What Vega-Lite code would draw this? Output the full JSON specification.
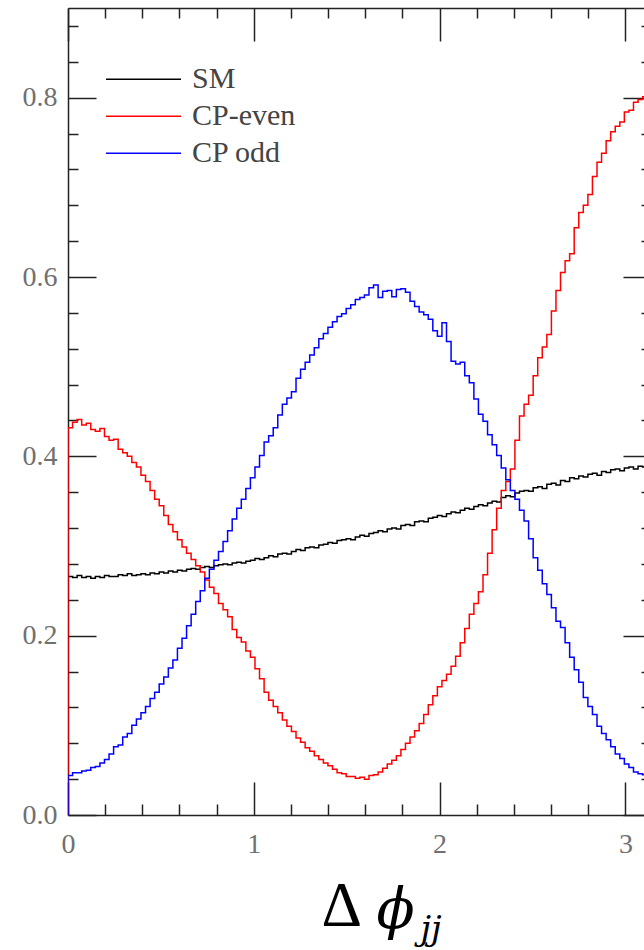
{
"$schema": "https://vega.github.io/schema/vega-lite/v6.json",
"width": 576, "height": 807,
"autosize": {"type": "none"},
"padding": {"left": 68, "top": 8, "right": 0, "bottom": 135},
"background": "white",
"config": {"view": {"stroke": null}, "axis": {"grid": false}},
"data": {"values": [
{"i":0,"x":0,"SM":0,"CP-even":0,"CP odd":0},
{"i":1,"x":0,"SM":0.266,"CP-even":0.432,"CP odd":0.044},
{"i":2,"x":0.0245,"SM":0.265,"CP-even":0.438,"CP odd":0.047},
{"i":3,"x":0.0491,"SM":0.267,"CP-even":0.441,"CP odd":0.047},
{"i":4,"x":0.0736,"SM":0.265,"CP-even":0.435,"CP odd":0.049},
{"i":5,"x":0.0982,"SM":0.266,"CP-even":0.437,"CP odd":0.050},
{"i":6,"x":0.1227,"SM":0.264,"CP-even":0.430,"CP odd":0.053},
{"i":7,"x":0.1473,"SM":0.266,"CP-even":0.428,"CP odd":0.054},
{"i":8,"x":0.1718,"SM":0.265,"CP-even":0.431,"CP odd":0.058},
{"i":9,"x":0.1963,"SM":0.267,"CP-even":0.422,"CP odd":0.062},
{"i":10,"x":0.2209,"SM":0.266,"CP-even":0.418,"CP odd":0.068},
{"i":11,"x":0.2454,"SM":0.266,"CP-even":0.419,"CP odd":0.076},
{"i":12,"x":0.2700,"SM":0.268,"CP-even":0.408,"CP odd":0.078},
{"i":13,"x":0.2945,"SM":0.267,"CP-even":0.404,"CP odd":0.087},
{"i":14,"x":0.3191,"SM":0.269,"CP-even":0.400,"CP odd":0.091},
{"i":15,"x":0.3436,"SM":0.267,"CP-even":0.393,"CP odd":0.100},
{"i":16,"x":0.3682,"SM":0.268,"CP-even":0.388,"CP odd":0.107},
{"i":17,"x":0.3927,"SM":0.269,"CP-even":0.379,"CP odd":0.114},
{"i":18,"x":0.4172,"SM":0.268,"CP-even":0.372,"CP odd":0.121},
{"i":19,"x":0.4418,"SM":0.270,"CP-even":0.362,"CP odd":0.130},
{"i":20,"x":0.4663,"SM":0.269,"CP-even":0.352,"CP odd":0.137},
{"i":21,"x":0.4909,"SM":0.271,"CP-even":0.345,"CP odd":0.146},
{"i":22,"x":0.5154,"SM":0.270,"CP-even":0.334,"CP odd":0.154},
{"i":23,"x":0.5400,"SM":0.272,"CP-even":0.324,"CP odd":0.164},
{"i":24,"x":0.5645,"SM":0.271,"CP-even":0.316,"CP odd":0.173},
{"i":25,"x":0.5890,"SM":0.273,"CP-even":0.307,"CP odd":0.186},
{"i":26,"x":0.6136,"SM":0.272,"CP-even":0.299,"CP odd":0.197},
{"i":27,"x":0.6381,"SM":0.274,"CP-even":0.292,"CP odd":0.211},
{"i":28,"x":0.6627,"SM":0.275,"CP-even":0.285,"CP odd":0.224},
{"i":29,"x":0.6872,"SM":0.274,"CP-even":0.278,"CP odd":0.238},
{"i":30,"x":0.7118,"SM":0.276,"CP-even":0.271,"CP odd":0.250},
{"i":31,"x":0.7363,"SM":0.277,"CP-even":0.262,"CP odd":0.264},
{"i":32,"x":0.7609,"SM":0.276,"CP-even":0.254,"CP odd":0.274},
{"i":33,"x":0.7854,"SM":0.278,"CP-even":0.247,"CP odd":0.284},
{"i":34,"x":0.8099,"SM":0.279,"CP-even":0.236,"CP odd":0.294},
{"i":35,"x":0.8345,"SM":0.280,"CP-even":0.229,"CP odd":0.305},
{"i":36,"x":0.8590,"SM":0.279,"CP-even":0.221,"CP odd":0.317},
{"i":37,"x":0.8836,"SM":0.281,"CP-even":0.207,"CP odd":0.330},
{"i":38,"x":0.9081,"SM":0.282,"CP-even":0.198,"CP odd":0.342},
{"i":39,"x":0.9327,"SM":0.281,"CP-even":0.193,"CP odd":0.352},
{"i":40,"x":0.9572,"SM":0.283,"CP-even":0.183,"CP odd":0.364},
{"i":41,"x":0.9817,"SM":0.284,"CP-even":0.176,"CP odd":0.376},
{"i":42,"x":1.0063,"SM":0.286,"CP-even":0.163,"CP odd":0.388},
{"i":43,"x":1.0308,"SM":0.285,"CP-even":0.152,"CP odd":0.401},
{"i":44,"x":1.0554,"SM":0.287,"CP-even":0.137,"CP odd":0.416},
{"i":45,"x":1.0799,"SM":0.289,"CP-even":0.128,"CP odd":0.423},
{"i":46,"x":1.1045,"SM":0.288,"CP-even":0.121,"CP odd":0.432},
{"i":47,"x":1.1290,"SM":0.291,"CP-even":0.114,"CP odd":0.446},
{"i":48,"x":1.1536,"SM":0.292,"CP-even":0.106,"CP odd":0.458},
{"i":49,"x":1.1781,"SM":0.291,"CP-even":0.099,"CP odd":0.465},
{"i":50,"x":1.2026,"SM":0.294,"CP-even":0.093,"CP odd":0.472},
{"i":51,"x":1.2272,"SM":0.296,"CP-even":0.086,"CP odd":0.487},
{"i":52,"x":1.2517,"SM":0.295,"CP-even":0.081,"CP odd":0.497},
{"i":53,"x":1.2763,"SM":0.298,"CP-even":0.075,"CP odd":0.505},
{"i":54,"x":1.3008,"SM":0.299,"CP-even":0.071,"CP odd":0.513},
{"i":55,"x":1.3254,"SM":0.298,"CP-even":0.066,"CP odd":0.521},
{"i":56,"x":1.3499,"SM":0.301,"CP-even":0.062,"CP odd":0.531},
{"i":57,"x":1.3744,"SM":0.302,"CP-even":0.058,"CP odd":0.537},
{"i":58,"x":1.3990,"SM":0.304,"CP-even":0.055,"CP odd":0.544},
{"i":59,"x":1.4235,"SM":0.303,"CP-even":0.051,"CP odd":0.550},
{"i":60,"x":1.4481,"SM":0.306,"CP-even":0.047,"CP odd":0.556},
{"i":61,"x":1.4726,"SM":0.307,"CP-even":0.046,"CP odd":0.559},
{"i":62,"x":1.4972,"SM":0.308,"CP-even":0.043,"CP odd":0.565},
{"i":63,"x":1.5217,"SM":0.307,"CP-even":0.043,"CP odd":0.569},
{"i":64,"x":1.5463,"SM":0.310,"CP-even":0.041,"CP odd":0.575},
{"i":65,"x":1.5708,"SM":0.312,"CP-even":0.042,"CP odd":0.577},
{"i":66,"x":1.5953,"SM":0.311,"CP-even":0.040,"CP odd":0.580},
{"i":67,"x":1.6199,"SM":0.314,"CP-even":0.044,"CP odd":0.588},
{"i":68,"x":1.6444,"SM":0.315,"CP-even":0.045,"CP odd":0.591},
{"i":69,"x":1.6690,"SM":0.317,"CP-even":0.048,"CP odd":0.577},
{"i":70,"x":1.6935,"SM":0.316,"CP-even":0.052,"CP odd":0.584},
{"i":71,"x":1.7181,"SM":0.319,"CP-even":0.057,"CP odd":0.585},
{"i":72,"x":1.7426,"SM":0.320,"CP-even":0.061,"CP odd":0.578},
{"i":73,"x":1.7671,"SM":0.319,"CP-even":0.066,"CP odd":0.586},
{"i":74,"x":1.7917,"SM":0.323,"CP-even":0.073,"CP odd":0.587},
{"i":75,"x":1.8162,"SM":0.324,"CP-even":0.080,"CP odd":0.583},
{"i":76,"x":1.8408,"SM":0.323,"CP-even":0.087,"CP odd":0.573},
{"i":77,"x":1.8653,"SM":0.327,"CP-even":0.094,"CP odd":0.567},
{"i":78,"x":1.8899,"SM":0.328,"CP-even":0.102,"CP odd":0.561},
{"i":79,"x":1.9144,"SM":0.327,"CP-even":0.112,"CP odd":0.558},
{"i":80,"x":1.9390,"SM":0.331,"CP-even":0.123,"CP odd":0.553},
{"i":81,"x":1.9635,"SM":0.332,"CP-even":0.133,"CP odd":0.540},
{"i":82,"x":1.9880,"SM":0.334,"CP-even":0.143,"CP odd":0.534},
{"i":83,"x":2.0126,"SM":0.333,"CP-even":0.150,"CP odd":0.549},
{"i":84,"x":2.0371,"SM":0.336,"CP-even":0.157,"CP odd":0.528},
{"i":85,"x":2.0617,"SM":0.338,"CP-even":0.166,"CP odd":0.506},
{"i":86,"x":2.0862,"SM":0.337,"CP-even":0.177,"CP odd":0.503},
{"i":87,"x":2.1108,"SM":0.340,"CP-even":0.192,"CP odd":0.505},
{"i":88,"x":2.1353,"SM":0.342,"CP-even":0.208,"CP odd":0.490},
{"i":89,"x":2.1598,"SM":0.341,"CP-even":0.224,"CP odd":0.482},
{"i":90,"x":2.1844,"SM":0.344,"CP-even":0.236,"CP odd":0.464},
{"i":91,"x":2.2089,"SM":0.346,"CP-even":0.249,"CP odd":0.447},
{"i":92,"x":2.2335,"SM":0.345,"CP-even":0.268,"CP odd":0.439},
{"i":93,"x":2.2580,"SM":0.348,"CP-even":0.292,"CP odd":0.424},
{"i":94,"x":2.2826,"SM":0.350,"CP-even":0.318,"CP odd":0.413},
{"i":95,"x":2.3071,"SM":0.349,"CP-even":0.342,"CP odd":0.401},
{"i":96,"x":2.3317,"SM":0.354,"CP-even":0.362,"CP odd":0.387},
{"i":97,"x":2.3562,"SM":0.356,"CP-even":0.372,"CP odd":0.374},
{"i":98,"x":2.3807,"SM":0.355,"CP-even":0.386,"CP odd":0.362},
{"i":99,"x":2.4053,"SM":0.359,"CP-even":0.418,"CP odd":0.352},
{"i":100,"x":2.4298,"SM":0.361,"CP-even":0.445,"CP odd":0.340},
{"i":101,"x":2.4544,"SM":0.362,"CP-even":0.458,"CP odd":0.328},
{"i":102,"x":2.4789,"SM":0.361,"CP-even":0.468,"CP odd":0.308},
{"i":103,"x":2.5035,"SM":0.365,"CP-even":0.490,"CP odd":0.287},
{"i":104,"x":2.5280,"SM":0.366,"CP-even":0.510,"CP odd":0.273},
{"i":105,"x":2.5525,"SM":0.364,"CP-even":0.522,"CP odd":0.258},
{"i":106,"x":2.5771,"SM":0.369,"CP-even":0.536,"CP odd":0.246},
{"i":107,"x":2.6016,"SM":0.370,"CP-even":0.562,"CP odd":0.231},
{"i":108,"x":2.6262,"SM":0.368,"CP-even":0.585,"CP odd":0.216},
{"i":109,"x":2.6507,"SM":0.373,"CP-even":0.605,"CP odd":0.209},
{"i":110,"x":2.6753,"SM":0.372,"CP-even":0.618,"CP odd":0.192},
{"i":111,"x":2.6998,"SM":0.376,"CP-even":0.626,"CP odd":0.176},
{"i":112,"x":2.7243,"SM":0.375,"CP-even":0.655,"CP odd":0.162},
{"i":113,"x":2.7489,"SM":0.378,"CP-even":0.672,"CP odd":0.148},
{"i":114,"x":2.7734,"SM":0.377,"CP-even":0.680,"CP odd":0.131},
{"i":115,"x":2.7980,"SM":0.380,"CP-even":0.692,"CP odd":0.121},
{"i":116,"x":2.8225,"SM":0.381,"CP-even":0.712,"CP odd":0.112},
{"i":117,"x":2.8471,"SM":0.379,"CP-even":0.728,"CP odd":0.099},
{"i":118,"x":2.8716,"SM":0.383,"CP-even":0.738,"CP odd":0.091},
{"i":119,"x":2.8962,"SM":0.382,"CP-even":0.752,"CP odd":0.084},
{"i":120,"x":2.9207,"SM":0.385,"CP-even":0.762,"CP odd":0.076},
{"i":121,"x":2.9452,"SM":0.386,"CP-even":0.768,"CP odd":0.068},
{"i":122,"x":2.9698,"SM":0.384,"CP-even":0.773,"CP odd":0.063},
{"i":123,"x":2.9943,"SM":0.387,"CP-even":0.784,"CP odd":0.057},
{"i":124,"x":3.0189,"SM":0.388,"CP-even":0.786,"CP odd":0.053},
{"i":125,"x":3.0434,"SM":0.386,"CP-even":0.795,"CP odd":0.048},
{"i":126,"x":3.0680,"SM":0.389,"CP-even":0.798,"CP odd":0.046},
{"i":127,"x":3.0925,"SM":0.388,"CP-even":0.801,"CP odd":0.045},
{"i":128,"x":3.1171,"SM":0.389,"CP-even":0.805,"CP odd":0.045},
{"i":129,"x":3.1416,"SM":0.389,"CP-even":0.805,"CP odd":0.045}
]},
"transform": [{"fold": ["SM", "CP-even", "CP odd"], "as": ["series", "value"]}],
"layer": [
{
"mark": {"type": "line", "interpolate": "step-after", "strokeWidth": 1.5, "clip": true},
"encoding": {
"x": {"field": "x", "type": "quantitative", "scale": {"domain": [0, 3.1], "nice": false, "zero": false},
"axis": {"orient": "bottom", "values": [0, 1, 2, 3], "tickSize": -33, "tickWidth": 1.5, "tickColor": "#222", "domainColor": "#222", "domainWidth": 1.5, "labelFont": "Liberation Serif", "labelFontSize": 28, "labelColor": "#707070", "labelBaseline": "alphabetic", "labelPadding": 70, "labelFlush": false, "labelOverlap": false, "title": "Δ", "titleFont": "Liberation Serif", "titleFontSize": 63, "titleFontWeight": "normal", "titleColor": "black", "titleAnchor": "start", "titleAlign": "left", "titleBaseline": "alphabetic", "titleX": 253, "titleY": 110}},
"y": {"field": "value", "type": "quantitative", "scale": {"domain": [0, 0.9], "nice": false},
"axis": {"orient": "left", "values": [0, 0.2, 0.4, 0.6, 0.8], "format": ".1f", "tickSize": -28, "tickWidth": 1.5, "tickColor": "#222", "domainColor": "#222", "domainWidth": 1.5, "labelFont": "Liberation Serif", "labelFontSize": 28, "labelColor": "#707070", "labelBaseline": "middle", "labelAlign": "right", "labelPadding": 39, "labelFlush": false, "labelOverlap": false, "title": null}},
"color": {"field": "series", "type": "nominal", "scale": {"domain": ["SM", "CP-even", "CP odd"], "range": ["#000000", "#ff0000", "#0000ff"]},
"legend": {"orient": "none", "legendX": 37, "legendY": 54, "title": null, "symbolType": "stroke", "symbolSize": 5625, "symbolStrokeWidth": 1.5, "labelFont": "Liberation Serif", "labelFontSize": 30, "labelColor": "#444", "labelOffset": 10, "padding": 0, "clipHeight": 34.5, "rowPadding": 2}},
"order": {"field": "i", "type": "quantitative"}
}
},
{
"mark": {"type": "line", "strokeOpacity": 0},
"encoding": {
"x": {"field": "x", "type": "quantitative", "scale": {"domain": [0, 3.1], "nice": false, "zero": false},
"axis": {"orient": "bottom", "values": [0.2, 0.4, 0.6, 0.8, 1.2, 1.4, 1.6, 1.8, 2.2, 2.4, 2.6, 2.8], "tickSize": -11, "tickWidth": 1.5, "tickColor": "#222", "domain": false, "labels": false, "title": "ϕ", "titleFont": "DejaVu Serif", "titleFontStyle": "italic", "titleFontSize": 56, "titleFontWeight": "normal", "titleColor": "black", "titleAnchor": "start", "titleAlign": "left", "titleBaseline": "alphabetic", "titleX": 308, "titleY": 112}},
"y": {"field": "value", "type": "quantitative", "scale": {"domain": [0, 0.9], "nice": false},
"axis": {"orient": "left", "values": [0.04, 0.08, 0.12, 0.16, 0.24, 0.28, 0.32, 0.36, 0.44, 0.48, 0.52, 0.56, 0.64, 0.68, 0.72, 0.76, 0.84, 0.88], "tickSize": -10, "tickWidth": 1.5, "tickColor": "#222", "domain": false, "labels": false, "title": null}}
}
},
{
"mark": {"type": "line", "strokeOpacity": 0},
"encoding": {
"x": {"field": "x", "type": "quantitative", "scale": {"domain": [0, 3.1], "nice": false, "zero": false},
"axis": {"orient": "top", "values": [0, 1, 2, 3], "tickSize": -33, "tickWidth": 1.5, "tickColor": "#222", "domainColor": "#222", "domainWidth": 1.5, "labels": false, "title": null}},
"y": {"field": "value", "type": "quantitative", "scale": {"domain": [0, 0.9], "nice": false},
"axis": {"orient": "right", "values": [0, 0.2, 0.4, 0.6, 0.8], "tickSize": -21, "tickWidth": 1.5, "tickColor": "#222", "domain": false, "labels": false, "title": null}}
}
},
{
"mark": {"type": "line", "strokeOpacity": 0},
"encoding": {
"x": {"field": "x", "type": "quantitative", "scale": {"domain": [0, 3.1], "nice": false, "zero": false},
"axis": {"orient": "top", "values": [0.2, 0.4, 0.6, 0.8, 1.2, 1.4, 1.6, 1.8, 2.2, 2.4, 2.6, 2.8], "tickSize": -10, "tickWidth": 1.5, "tickColor": "#222", "domain": false, "labels": false, "title": null}},
"y": {"field": "value", "type": "quantitative", "scale": {"domain": [0, 0.9], "nice": false},
"axis": {"orient": "right", "values": [0.04, 0.08, 0.12, 0.16, 0.24, 0.28, 0.32, 0.36, 0.44, 0.48, 0.52, 0.56, 0.64, 0.68, 0.72, 0.76, 0.84, 0.88], "tickSize": -3, "tickWidth": 1.5, "tickColor": "#222", "domain": false, "labels": false, "title": null}}
}
},
{
"mark": {"type": "line", "strokeOpacity": 0},
"encoding": {
"x": {"field": "x", "type": "quantitative", "scale": {"domain": [0, 3.1], "nice": false, "zero": false},
"axis": {"orient": "bottom", "ticks": false, "domain": false, "labels": false, "title": "jj", "titleFont": "DejaVu Serif", "titleFontStyle": "italic", "titleFontSize": 34, "titleFontWeight": "normal", "titleColor": "black", "titleAnchor": "start", "titleAlign": "left", "titleBaseline": "alphabetic", "titleX": 352, "titleY": 124}},
"y": {"field": "value", "type": "quantitative", "scale": {"domain": [0, 0.9], "nice": false}, "axis": null}
}
}
],
"resolve": {"axis": {"x": "independent", "y": "independent"}}
}
